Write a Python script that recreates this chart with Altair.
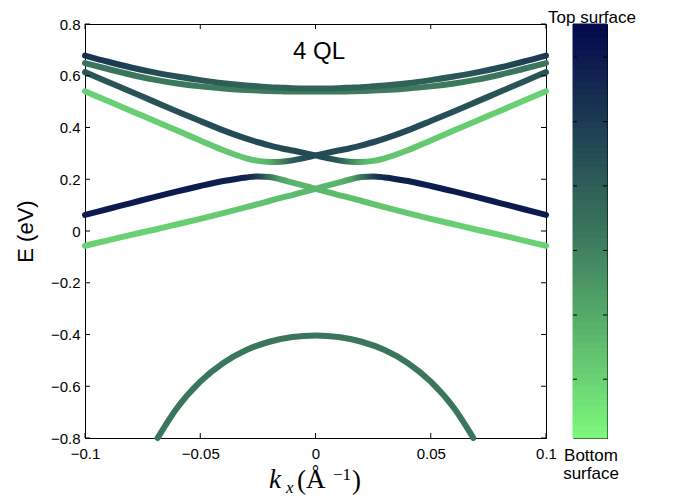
import altair as alt
import pandas as pd

# ---------------- data ----------------
K = [-0.10, -0.09, -0.08, -0.07, -0.06, -0.05, -0.04, -0.03, -0.025, -0.02, -0.015, -0.01, -0.005, 0.0,
     0.005, 0.01, 0.015, 0.02, 0.025, 0.03, 0.04, 0.05, 0.06, 0.07, 0.08, 0.09, 0.10]

# upper pair (near 0.55 eV)
E_TOP1 = [0.678, 0.654, 0.632, 0.613, 0.597, 0.583, 0.571, 0.562, 0.559, 0.556, 0.554, 0.552, 0.551, 0.551,
          0.551, 0.552, 0.554, 0.556, 0.559, 0.562, 0.571, 0.583, 0.597, 0.613, 0.632, 0.654, 0.678]
W_TOP1 = [0.82, 0.78, 0.74, 0.70, 0.67, 0.64, 0.61, 0.59, 0.58, 0.58, 0.58, 0.58, 0.58, 0.58,
          0.58, 0.58, 0.58, 0.58, 0.58, 0.58, 0.59, 0.61, 0.64, 0.67, 0.70, 0.74, 0.78]
E_TOP2 = [0.649, 0.626, 0.604, 0.585, 0.570, 0.559, 0.551, 0.545, 0.543, 0.541, 0.540, 0.539, 0.539, 0.539,
          0.539, 0.539, 0.540, 0.541, 0.543, 0.545, 0.551, 0.559, 0.570, 0.585, 0.604, 0.626, 0.649]
W_TOP2 = [0.50, 0.50, 0.50, 0.49, 0.49, 0.48, 0.48, 0.48, 0.48, 0.48, 0.48, 0.48, 0.48, 0.48,
          0.48, 0.48, 0.48, 0.48, 0.48, 0.48, 0.48, 0.48, 0.49, 0.49, 0.50, 0.50, 0.50]

# crossing pair near 0.29 eV (A: green on the left; B is its mirror image)
E_A = [0.540, 0.502, 0.464, 0.426, 0.388, 0.350, 0.312, 0.281, 0.271, 0.267, 0.268, 0.273, 0.282, 0.292,
       0.302, 0.311, 0.320, 0.331, 0.343, 0.357, 0.389, 0.425, 0.462, 0.500, 0.538, 0.576, 0.614]
W_A = [0.15, 0.15, 0.16, 0.16, 0.17, 0.18, 0.19, 0.20, 0.21, 0.28, 0.45, 0.62, 0.68, 0.70,
       0.70, 0.70, 0.70, 0.70, 0.70, 0.70, 0.69, 0.68, 0.67, 0.66, 0.66, 0.65, 0.65]
E_B = E_A[::-1]
W_B = W_A[::-1]

# crossing pair near 0.16 eV (C: navy on the left; D is its mirror image)
E_C = [0.062, 0.085, 0.108, 0.131, 0.153, 0.174, 0.193, 0.207, 0.211, 0.209, 0.199, 0.187, 0.175, 0.163,
       0.151, 0.139, 0.128, 0.116, 0.104, 0.092, 0.069, 0.047, 0.026, 0.005, -0.015, -0.036, -0.057]
W_C = [0.92, 0.92, 0.92, 0.92, 0.92, 0.91, 0.90, 0.87, 0.75, 0.50, 0.32, 0.26, 0.25, 0.25,
       0.24, 0.23, 0.22, 0.21, 0.20, 0.19, 0.18, 0.17, 0.16, 0.15, 0.15, 0.15, 0.15]
E_D = E_C[::-1]
W_D = W_C[::-1]

# valence band
K_VB = [-0.0685, -0.06, -0.05, -0.04, -0.03, -0.02, -0.01, 0.0, 0.01, 0.02, 0.03, 0.04, 0.05, 0.06, 0.0685]
E_VB = [-0.800, -0.683, -0.582, -0.510, -0.460, -0.428, -0.410, -0.404, -0.410, -0.428, -0.460, -0.510,
        -0.582, -0.683, -0.800]
W_VB = 0.50

X_TICKS = [-0.1, -0.05, 0.0, 0.05, 0.1]
Y_TICKS = [-0.8, -0.6, -0.4, -0.2, 0.0, 0.2, 0.4, 0.6, 0.8]
CB_TICKS = [0.142, 0.297, 0.453, 0.609, 0.764, 0.920]
CB_LEVELS = 64

PANEL_LABEL = "4 QL"
Y_TITLE = "E (eV)"
CB_TOP = "Top surface"
CB_BOTTOM = ["Bottom", "surface"]
X_TITLE_PARTS = ["k", "x", "(", "Å", "−1", ")"]

# colormap: bottom surface (green) -> top surface (navy)
CMAP_DOMAIN = [0.0, 0.5, 1.0]
CMAP_RANGE = ["#7df87d", "#3a765c", "#03084c"]

W, H = 461, 414
CBW = 34
FONT = "Liberation Sans"
SERIF = "Liberation Serif"


def _rgb(h):
    h = h.lstrip("#")
    return [int(h[i:i + 2], 16) for i in (0, 2, 4)]


def cmap(w):
    for i in range(len(CMAP_DOMAIN) - 1):
        a, b = CMAP_DOMAIN[i], CMAP_DOMAIN[i + 1]
        if w <= b or i == len(CMAP_DOMAIN) - 2:
            t = min(max((w - a) / (b - a), 0), 1)
            c0, c1 = _rgb(CMAP_RANGE[i]), _rgb(CMAP_RANGE[i + 1])
            c = [round(c0[j] + (c1[j] - c0[j]) * t) for j in range(3)]
            return "#%02x%02x%02x" % tuple(c)


def gradient(ks, ws):
    k0, k1 = min(ks), max(ks)
    stops = [alt.GradientStop(offset=(k - k0) / (k1 - k0), color=cmap(w)) for k, w in zip(ks, ws)]
    return alt.LinearGradient(gradient="linear", stops=stops, x1=0, x2=1, y1=0, y2=0)


xs = alt.Scale(domain=[-0.1, 0.1], nice=False, zero=False)
ys = alt.Scale(domain=[-0.8, 0.8], nice=False, zero=False)

x_axis = alt.Axis(values=X_TICKS, tickSize=0, labelPadding=8, labelFontSize=15, labelFont=FONT,
                  labelColor="black", domainColor="black", grid=False, title=None,
                  labelExpr="format(datum.value, '~g')", labelFlush=False)
y_axis = alt.Axis(values=Y_TICKS, tickSize=0, labelPadding=5, labelFontSize=15, labelFont=FONT,
                  labelColor="black", domainColor="black", grid=False, title=Y_TITLE,
                  titleFont=FONT, titleFontSize=22, titleFontWeight="normal", titleColor="black",
                  titlePadding=13, labelExpr="format(datum.value, '~g')")


def band(ks, es, ws):
    df = pd.DataFrame({"k": ks, "E": es})
    stroke = gradient(ks, ws) if isinstance(ws, list) else cmap(ws)
    return alt.Chart(df).mark_line(interpolate="monotone", strokeWidth=6, strokeCap="round",
                                   strokeJoin="round", stroke=stroke, clip=False).encode(
        x=alt.X("k:Q", scale=xs, axis=x_axis),
        y=alt.Y("E:Q", scale=ys, axis=y_axis),
    )


layers = [
    band(K_VB, E_VB, W_VB),
    band(K, E_D, W_D),
    band(K, E_C, W_C),
    band(K, E_A, W_A),
    band(K, E_B, W_B),
    band(K, E_TOP2, W_TOP2),
    band(K, E_TOP1, W_TOP1),
]

# inward ticks (MATLAB style, all four sides)
xt = pd.DataFrame({"v": X_TICKS})
yt = pd.DataFrame({"v": Y_TICKS})
tick_x_bottom = alt.Chart(xt).mark_rule(color="black", strokeWidth=1).encode(
    x=alt.X("v:Q", scale=xs, axis=x_axis), y=alt.value(H - 5), y2=alt.value(H))
tick_x_top = alt.Chart(xt).mark_rule(color="black", strokeWidth=1).encode(
    x=alt.X("v:Q", scale=xs, axis=x_axis), y=alt.value(0), y2=alt.value(5))
tick_y_left = alt.Chart(yt).mark_rule(color="black", strokeWidth=1).encode(
    y=alt.Y("v:Q", scale=ys, axis=y_axis), x=alt.value(0), x2=alt.value(5))
tick_y_right = alt.Chart(yt).mark_rule(color="black", strokeWidth=1).encode(
    y=alt.Y("v:Q", scale=ys, axis=y_axis), x=alt.value(W - 5), x2=alt.value(W))

label = alt.Chart(pd.DataFrame({"t": [PANEL_LABEL]})).mark_text(
    font=FONT, fontSize=24, align="center", baseline="alphabetic", color="black").encode(
    text="t:N", x=alt.value(234), y=alt.value(35))

# x-axis title  k_x(Å^-1), composed LaTeX-like
xt_parts = pd.DataFrame({
    "t": X_TITLE_PARTS,
    "px": [184, 201, 212, 221, 248, 267],
    "py": [464, 469, 465, 464, 456, 465],
    "size": [27, 17, 27, 27, 17, 27],
    "style": ["italic", "italic", "normal", "normal", "normal", "normal"],
})
xtitle_layers = []
for _, r in xt_parts.iterrows():
    xtitle_layers.append(
        alt.Chart(pd.DataFrame({"t": [r["t"]]})).mark_text(
            font=SERIF, fontSize=int(r["size"]), fontStyle=r["style"], align="left",
            baseline="alphabetic", color="black").encode(
            text="t:N", x=alt.value(int(r["px"])), y=alt.value(int(r["py"])))
    )

main = alt.layer(*layers, tick_x_bottom, tick_x_top, tick_y_left, tick_y_right, label,
                 *xtitle_layers).properties(width=W, height=H)

# ---------------- colorbar ----------------
cb_df = pd.DataFrame({
    "lo": [i / CB_LEVELS for i in range(CB_LEVELS)],
    "hi": [(i + 1) / CB_LEVELS for i in range(CB_LEVELS)],
    "mid": [(i + 0.5) / CB_LEVELS for i in range(CB_LEVELS)],
})
cbs = alt.Scale(domain=[0, 1], nice=False, zero=False)
cb_color_scale = alt.Scale(domain=CMAP_DOMAIN, range=CMAP_RANGE, interpolate="rgb")
cb_rect = alt.Chart(cb_df).mark_rect(strokeWidth=1).encode(
    y=alt.Y("lo:Q", scale=cbs, axis=None), y2="hi:Q",
    x=alt.value(0), x2=alt.value(CBW),
    color=alt.Color("mid:Q", scale=cb_color_scale, legend=None),
    stroke=alt.Stroke("mid:Q", scale=cb_color_scale, legend=None),
)
cbt = pd.DataFrame({"v": CB_TICKS})
cb_tick_l = alt.Chart(cbt).mark_rule(color="black").encode(
    y=alt.Y("v:Q", scale=cbs, axis=None), x=alt.value(0), x2=alt.value(4))
cb_tick_r = alt.Chart(cbt).mark_rule(color="black").encode(
    y=alt.Y("v:Q", scale=cbs, axis=None), x=alt.value(CBW - 4), x2=alt.value(CBW))
cb_top = alt.Chart(pd.DataFrame({"t": [CB_TOP]})).mark_text(
    font=FONT, fontSize=17, align="center", baseline="alphabetic", color="black").encode(
    text="t:N", x=alt.value(19), y=alt.value(-1))
cb_bot = alt.Chart(pd.DataFrame({"t": CB_BOTTOM, "py": [437, 455]})).mark_text(
    font=FONT, fontSize=17, align="center", baseline="alphabetic", color="black").encode(
    text="t:N", x=alt.value(18), y=alt.Y("py:Q", scale=None, axis=None))

colorbar = alt.layer(cb_rect, cb_tick_l, cb_tick_r, cb_top, cb_bot).properties(width=CBW, height=H)

chart = alt.HConcatChart(hconcat=[main, colorbar], spacing=27, bounds="flush").configure_view(
    stroke="black", strokeWidth=1
).configure_axis(domainWidth=1).properties(padding={"left": 5, "top": 0, "right": 5, "bottom": 5})

chart.save("out.html", embed_options={"renderer": "svg", "actions": False})
